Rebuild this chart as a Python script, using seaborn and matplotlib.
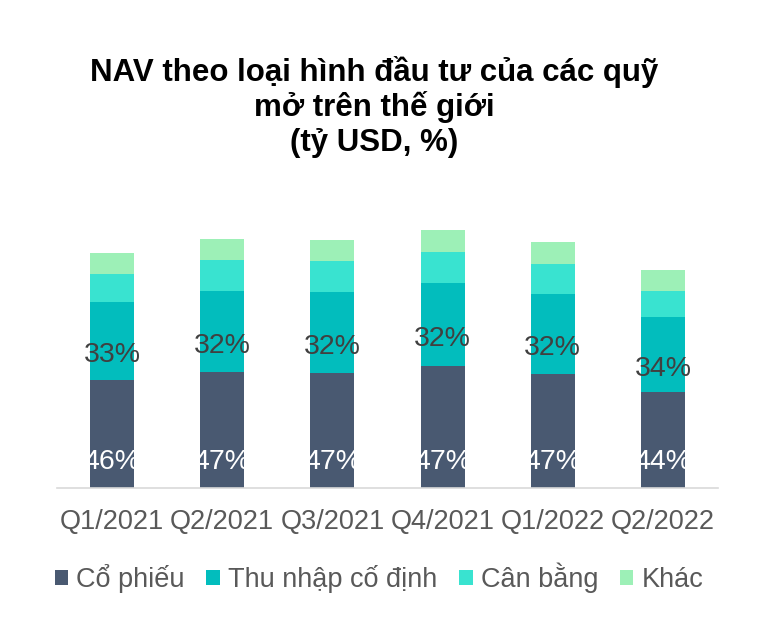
import matplotlib
matplotlib.use("Agg")
import matplotlib.pyplot as plt
from matplotlib.patches import Patch
import seaborn as sns
import pandas as pd
import numpy as np

# Data (tỷ USD)
quarters = ["Q1/2021", "Q2/2021", "Q3/2021", "Q4/2021", "Q1/2022", "Q2/2022"]
co_phieu = [29800, 32000, 31730, 33660, 31450, 26490]
thu_nhap_co_dinh = [21520, 22350, 22350, 22730, 22070, 20690]
can_bang = [7725, 8550, 8550, 8720, 8280, 7170]
khac = [5710, 5710, 5710, 5990, 5990, 5710]
pct_co_phieu = ["46%", "47%", "47%", "47%", "47%", "44%"]
pct_thu_nhap = ["33%", "32%", "32%", "32%", "32%", "34%"]

series_names = ["Cổ phiếu", "Thu nhập cố định", "Cân bằng", "Khác"]
series_values = [co_phieu, thu_nhap_co_dinh, can_bang, khac]
colors = ["#495971", "#02BDBD", "#39E3D0", "#9DF0B7"]

sns.set_theme(style="white")
plt.rcParams["font.family"] = ["Liberation Sans", "DejaVu Sans"]

fig = plt.figure(figsize=(7.57, 6.31), dpi=100)
ax = fig.add_axes([57 / 757, 1 - 487.7 / 631, 661 / 757, 290 / 631])

bottom = np.zeros(len(quarters))
for name, vals, col in zip(series_names, series_values, colors):
    df = pd.DataFrame({"q": quarters, "v": vals})
    sns.barplot(data=df, x="q", y="v", order=quarters, color=col, width=0.4,
                bottom=bottom.copy(), ax=ax, saturation=1, linewidth=0)
    bottom = bottom + np.array(vals)

ax.set_xlim(-0.5, len(quarters) - 0.5)
ax.set_ylim(0, 80000)
ax.set_xlabel("")
ax.set_ylabel("")
ax.set_yticks([])
for s in ["top", "right", "left"]:
    ax.spines[s].set_visible(False)
ax.spines["bottom"].set_color("#d9d9d9")
ax.spines["bottom"].set_linewidth(1.2)
ax.tick_params(axis="x", length=0, pad=15, labelsize=19.5, labelcolor="#595959")

# Labels
for i in range(len(quarters)):
    ax.annotate(pct_co_phieu[i], (i, 0), xytext=(0, 18.5), textcoords="offset points",
                ha="center", va="center", color="white", fontsize=20.5)
    mid = co_phieu[i] + thu_nhap_co_dinh[i] / 2
    ax.annotate(pct_thu_nhap[i], (i, mid), xytext=(0, -10.5), textcoords="offset points",
                ha="center", va="center", color="#404040", fontsize=20.5)

# Title
title_lines = ["NAV theo loại hình đầu tư của các quỹ", "mở trên thế giới", "(tỷ USD, %)"]
for k, line in enumerate(title_lines):
    fig.text(374 / 757, 1 - (81 + 35 * k) / 631, line, ha="center", va="baseline",
             fontsize=22.5, fontweight="bold", color="black")

handles = [Patch(facecolor=c, edgecolor="none") for c in colors]
fig.legend(handles, series_names, loc="center", bbox_to_anchor=(379 / 757, 1 - 578 / 631),
           ncol=4, frameon=False, fontsize=19.5, labelcolor="#595959",
           handlelength=0.5, handleheight=0.5, handletextpad=0.3, columnspacing=0.8,
           borderaxespad=0, borderpad=0)

fig.savefig("out.png", dpi=100)
